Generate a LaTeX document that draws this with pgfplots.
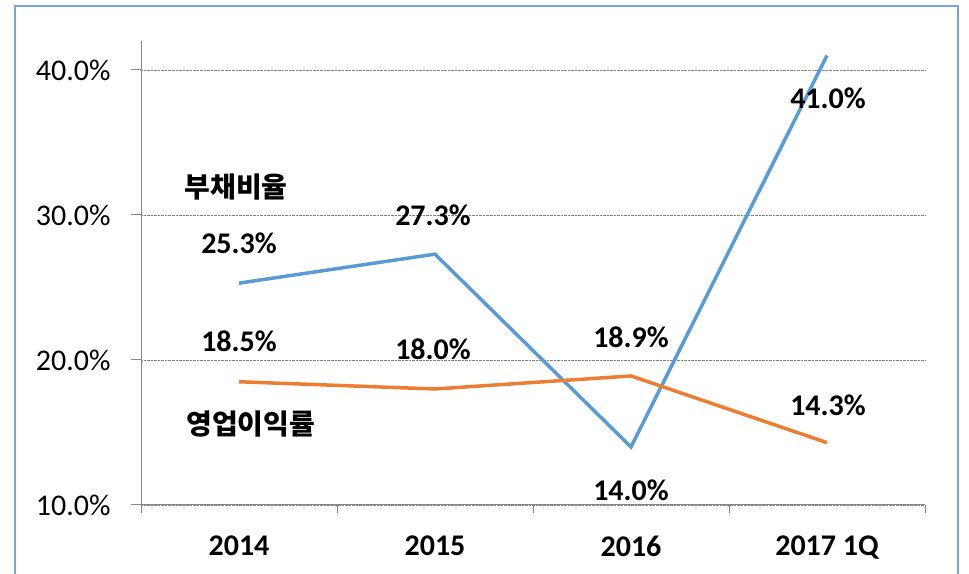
\documentclass[border=0pt]{standalone}
\usepackage{pgfplots}
\pgfplotsset{compat=1.18}
\usepackage{fontspec}
\setmainfont{Carlito}
\newfontfamily\kr{Noto Sans CJK KR}
\definecolor{sblue}{HTML}{5B9BD5}
\definecolor{sorange}{HTML}{ED7D31}
\definecolor{framec}{RGB}{120,165,220}
\definecolor{axgray}{HTML}{868686}
\begin{document}
\begin{tikzpicture}
\useasboundingbox (0,0) rectangle (969bp,574bp);
\fill[white] (0,0) rectangle (969bp,574bp);
\draw[framec, line width=1.5bp] (15bp,-5bp) -- (15bp,568bp) -- (958bp,568bp) -- (958bp,-5bp);
\begin{axis}[
  at={(141bp,69bp)}, anchor=south west,
  scale only axis, width=784bp, height=464bp,
  xmin=-0.5, xmax=3.5, ymin=10, ymax=42,
  axis x line*=bottom, axis y line*=left,
  axis line style={axgray, line width=1bp},
  tick align=outside,
  xtick={0,1,2,3},
  xticklabels={2014,2015,2016,2017 1Q},
  minor xtick={-0.5,0.5,1.5,2.5,3.5},
  major x tick style={draw=none},
  minor x tick style={axgray, line width=1bp},
  ytick={10,20,30,40},
  y tick style={axgray, line width=1bp},
  major tick length=10bp, minor tick length=8bp,
  ymajorgrids, grid style={gray, densely dotted, line width=0.6bp},
  yticklabel={\pgfmathprintnumber[fixed,fixed zerofill,precision=1]{\tick}\%},
  /pgf/number format/assume math mode=true,
  ticklabel style={font=\fontsize{30bp}{36bp}\selectfont, text=black},
  yticklabel style={xshift=-17bp},
  xticklabel style={font=\bfseries\fontsize{30bp}{36bp}\selectfont, yshift=-17bp},
  clip=false,
]
\addplot[sblue, line width=3.5bp] coordinates {(0,25.3) (1,27.3) (2,14.0) (3,41.0)};
\addplot[sorange, line width=3.5bp] coordinates {(0,18.5) (1,18.0) (2,18.9) (3,14.3)};
\tikzset{dl/.style={font=\bfseries\fontsize{30bp}{36bp}\selectfont, text=black, inner sep=0pt}}
\node[dl, yshift=40bp] at (axis cs:0,25.3) {25.3\%};
\node[dl, yshift=39bp, xshift=-2bp] at (axis cs:1,27.3) {27.3\%};
\node[dl, yshift=-43bp] at (axis cs:2,14.0) {14.0\%};
\node[dl, yshift=-43bp, xshift=1bp] at (axis cs:3,41.0) {41.0\%};
\node[dl, yshift=40bp] at (axis cs:0,18.5) {18.5\%};
\node[dl, yshift=40bp, xshift=-2bp] at (axis cs:1,18.0) {18.0\%};
\node[dl, yshift=39bp] at (axis cs:2,18.9) {18.9\%};
\node[dl, yshift=37bp, xshift=1bp] at (axis cs:3,14.3) {14.3\%};
\node[font=\kr\bfseries\fontsize{28bp}{32bp}\selectfont, inner sep=0pt] at (axis cs:-0.015,31.9) {부채비율};
\node[font=\kr\bfseries\fontsize{28bp}{32bp}\selectfont, inner sep=0pt] at (axis cs:0.06,15.55) {영업이익률};
\end{axis}
\end{tikzpicture}
\end{document}
